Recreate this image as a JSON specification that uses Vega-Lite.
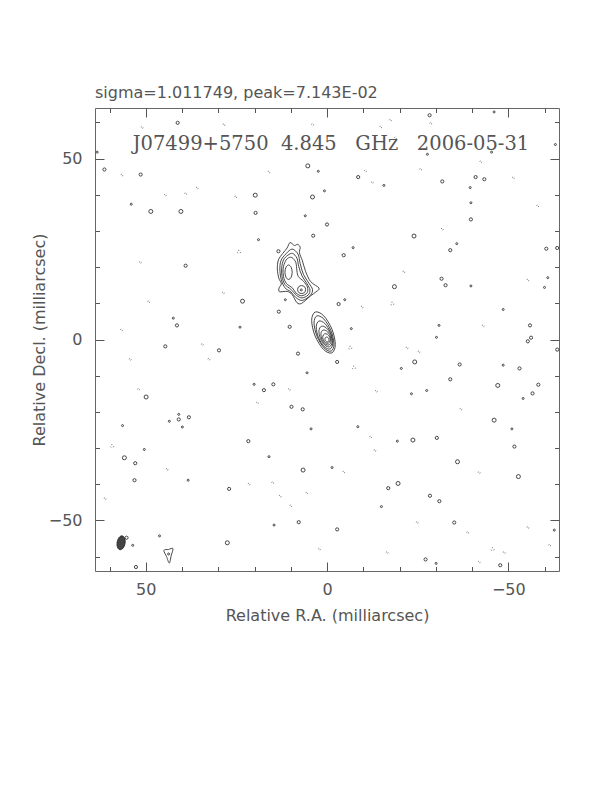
{
  "$schema": "https://vega.github.io/schema/vega-lite/v6.json",
  "width": 464,
  "height": 463,
  "autosize": "none",
  "padding": {"left": 95, "top": 108, "right": 53, "bottom": 221},
  "background": "white",
  "config": {
    "view": {"stroke": "#666", "strokeWidth": 1},
    "axis": {
      "domain": false, "grid": false,
      "labelFont": "DejaVu Sans", "labelFontSize": 16, "labelColor": "#555",
      "titleFont": "DejaVu Sans", "titleFontSize": 16, "titleFontWeight": "normal", "titleColor": "#555",
      "tickColor": "#555", "tickWidth": 1, "labelFlush": false, "labelOverlap": false
    }
  },
  "title": {
    "text": "sigma=1.011749, peak=7.143E-02",
    "anchor": "start", "frame": "group", "baseline": "alphabetic", "offset": 11, "dy": 17,
    "font": "DejaVu Sans", "fontSize": 16, "fontWeight": "normal", "color": "#555"
  },
  "datasets": {
    "contours": [
      {"c":"k1","o":0,"x":3.26,"y":7.59},{"c":"k1","o":1,"x":4.23,"y":5.28},{"c":"k1","o":2,"x":3.29,"y":1.0},{"c":"k1","o":3,"x":0.99,"y":-2.72},{"c":"k1","o":4,"x":-1.32,"y":-3.71},{"c":"k1","o":5,"x":-2.29,"y":-1.4},{"c":"k1","o":6,"x":-1.35,"y":2.88},{"c":"k1","o":7,"x":0.95,"y":6.6},
      {"c":"k2","o":0,"x":2.8,"y":6.53},{"c":"k2","o":1,"x":3.58,"y":4.55},{"c":"k2","o":2,"x":2.75,"y":0.88},{"c":"k2","o":3,"x":0.8,"y":-2.33},{"c":"k2","o":4,"x":-1.14,"y":-3.21},{"c":"k2","o":5,"x":-1.92,"y":-1.23},{"c":"k2","o":6,"x":-1.09,"y":2.44},{"c":"k2","o":7,"x":0.86,"y":5.65},
      {"c":"k3","o":0,"x":2.25,"y":5.09},{"c":"k3","o":1,"x":2.97,"y":3.48},{"c":"k3","o":2,"x":2.36,"y":0.56},{"c":"k3","o":3,"x":0.77,"y":-1.96},{"c":"k3","o":4,"x":-0.87,"y":-2.61},{"c":"k3","o":5,"x":-1.59,"y":-1.0},{"c":"k3","o":6,"x":-0.98,"y":1.92},{"c":"k3","o":7,"x":0.61,"y":4.44},
      {"c":"k4","o":0,"x":1.55,"y":3.65},{"c":"k4","o":1,"x":2.22,"y":2.42},{"c":"k4","o":2,"x":1.82,"y":0.26},{"c":"k4","o":3,"x":0.6,"y":-1.56},{"c":"k4","o":4,"x":-0.73,"y":-1.99},{"c":"k4","o":5,"x":-1.4,"y":-0.76},{"c":"k4","o":6,"x":-1.0,"y":1.4},{"c":"k4","o":7,"x":0.22,"y":3.22},
      {"c":"k5","o":0,"x":1.11,"y":2.59},{"c":"k5","o":1,"x":1.67,"y":1.66},{"c":"k5","o":2,"x":1.43,"y":0.08},{"c":"k5","o":3,"x":0.51,"y":-1.22},{"c":"k5","o":4,"x":-0.55,"y":-1.49},{"c":"k5","o":5,"x":-1.11,"y":-0.56},{"c":"k5","o":6,"x":-0.87,"y":1.02},{"c":"k5","o":7,"x":0.05,"y":2.32},
      {"c":"k6","o":0,"x":0.66,"y":1.56},{"c":"k6","o":1,"x":1.15,"y":0.92},{"c":"k6","o":2,"x":1.04,"y":-0.08},{"c":"k6","o":3,"x":0.41,"y":-0.88},{"c":"k6","o":4,"x":-0.38,"y":-1.0},{"c":"k6","o":5,"x":-0.87,"y":-0.36},{"c":"k6","o":6,"x":-0.76,"y":0.64},{"c":"k6","o":7,"x":-0.13,"y":1.44},
      {"c":"k7","o":0,"x":0.26,"y":0.64},{"c":"k7","o":1,"x":0.54,"y":0.3},{"c":"k7","o":2,"x":0.51,"y":-0.21},{"c":"k7","o":3,"x":0.18,"y":-0.6},{"c":"k7","o":4,"x":-0.26,"y":-0.64},{"c":"k7","o":5,"x":-0.54,"y":-0.3},{"c":"k7","o":6,"x":-0.51,"y":0.21},{"c":"k7","o":7,"x":-0.18,"y":0.6},
      {"c":"j1","o":0,"x":10.2,"y":26.8},{"c":"j1","o":1,"x":9.0,"y":26.0},{"c":"j1","o":2,"x":8.1,"y":26.3},{"c":"j1","o":3,"x":7.4,"y":25.5},{"c":"j1","o":4,"x":7.6,"y":24.0},{"c":"j1","o":5,"x":6.8,"y":21.8},{"c":"j1","o":6,"x":5.9,"y":18.8},{"c":"j1","o":7,"x":4.5,"y":16.0},{"c":"j1","o":8,"x":2.2,"y":14.2},{"c":"j1","o":9,"x":3.0,"y":13.2},{"c":"j1","o":10,"x":4.6,"y":12.0},{"c":"j1","o":11,"x":7.0,"y":10.0},{"c":"j1","o":12,"x":8.3,"y":10.2},{"c":"j1","o":13,"x":9.6,"y":12.4},{"c":"j1","o":14,"x":11.0,"y":13.3},{"c":"j1","o":15,"x":13.1,"y":13.2},{"c":"j1","o":16,"x":13.2,"y":14.3},{"c":"j1","o":17,"x":12.6,"y":15.4},{"c":"j1","o":18,"x":13.3,"y":17.0},{"c":"j1","o":19,"x":13.7,"y":19.5},{"c":"j1","o":20,"x":13.4,"y":22.0},{"c":"j1","o":21,"x":12.2,"y":23.8},{"c":"j1","o":22,"x":11.0,"y":25.3},
      {"c":"j2","o":0,"x":9.6,"y":25.0},{"c":"j2","o":1,"x":8.0,"y":23.6},{"c":"j2","o":2,"x":7.4,"y":21.0},{"c":"j2","o":3,"x":6.5,"y":18.0},{"c":"j2","o":4,"x":5.0,"y":15.6},{"c":"j2","o":5,"x":4.0,"y":13.8},{"c":"j2","o":6,"x":4.6,"y":12.2},{"c":"j2","o":7,"x":6.8,"y":10.8},{"c":"j2","o":8,"x":8.6,"y":11.6},{"c":"j2","o":9,"x":10.0,"y":13.2},{"c":"j2","o":10,"x":11.6,"y":14.3},{"c":"j2","o":11,"x":12.6,"y":16.5},{"c":"j2","o":12,"x":13.0,"y":19.2},{"c":"j2","o":13,"x":12.7,"y":21.8},{"c":"j2","o":14,"x":11.3,"y":23.7},
      {"c":"j3","o":0,"x":9.5,"y":23.8},{"c":"j3","o":1,"x":8.3,"y":22.5},{"c":"j3","o":2,"x":7.8,"y":20.2},{"c":"j3","o":3,"x":6.9,"y":17.6},{"c":"j3","o":4,"x":5.5,"y":15.4},{"c":"j3","o":5,"x":4.7,"y":13.7},{"c":"j3","o":6,"x":5.2,"y":12.3},{"c":"j3","o":7,"x":6.9,"y":11.5},{"c":"j3","o":8,"x":8.4,"y":12.2},{"c":"j3","o":9,"x":10.0,"y":13.9},{"c":"j3","o":10,"x":11.6,"y":15.2},{"c":"j3","o":11,"x":12.4,"y":17.4},{"c":"j3","o":12,"x":12.5,"y":19.8},{"c":"j3","o":13,"x":12.0,"y":22.0},{"c":"j3","o":14,"x":10.8,"y":23.3},
      {"c":"j4","o":0,"x":9.6,"y":22.6},{"c":"j4","o":1,"x":8.6,"y":21.3},{"c":"j4","o":2,"x":8.3,"y":19.0},{"c":"j4","o":3,"x":7.9,"y":17.4},{"c":"j4","o":4,"x":6.5,"y":16.1},{"c":"j4","o":5,"x":5.4,"y":14.5},{"c":"j4","o":6,"x":5.5,"y":12.9},{"c":"j4","o":7,"x":7.0,"y":12.1},{"c":"j4","o":8,"x":8.5,"y":12.8},{"c":"j4","o":9,"x":9.5,"y":14.2},{"c":"j4","o":10,"x":11.2,"y":15.5},{"c":"j4","o":11,"x":12.0,"y":17.4},{"c":"j4","o":12,"x":12.1,"y":19.6},{"c":"j4","o":13,"x":11.5,"y":21.6},{"c":"j4","o":14,"x":10.6,"y":22.6},
      {"c":"j5","o":0,"x":11.6,"y":18.6},{"c":"j5","o":1,"x":11.3,"y":20.0},{"c":"j5","o":2,"x":10.6,"y":20.6},{"c":"j5","o":3,"x":9.9,"y":20.0},{"c":"j5","o":4,"x":9.6,"y":18.6},{"c":"j5","o":5,"x":9.9,"y":17.2},{"c":"j5","o":6,"x":10.6,"y":16.6},{"c":"j5","o":7,"x":11.3,"y":17.2},
      {"c":"j6","o":0,"x":8.1,"y":13.8},{"c":"j6","o":1,"x":7.8,"y":14.6},{"c":"j6","o":2,"x":7.0,"y":14.9},{"c":"j6","o":3,"x":6.2,"y":14.6},{"c":"j6","o":4,"x":5.9,"y":13.8},{"c":"j6","o":5,"x":6.2,"y":13.0},{"c":"j6","o":6,"x":7.0,"y":12.7},{"c":"j6","o":7,"x":7.8,"y":13.0},
      {"c":"t1","o":0,"x":45.0,"y":-58.3},{"c":"t1","o":1,"x":43.75,"y":-58.05},{"c":"t1","o":2,"x":42.5,"y":-57.8},{"c":"t1","o":3,"x":43.0,"y":-59.8},{"c":"t1","o":4,"x":43.5,"y":-61.8},{"c":"t1","o":5,"x":44.25,"y":-60.05}
    ],
    "pos": [
      {"x":41.2,"y":59.9,"s":2},{"x":61.4,"y":47.0,"s":2},{"x":51.4,"y":45.6,"s":2},{"x":5.3,"y":48.0,"s":3},{"x":2.4,"y":46.5,"s":1},
      {"x":19.8,"y":39.9,"s":3},{"x":4.0,"y":39.4,"s":3},{"x":0.7,"y":41.1,"s":1},{"x":54.0,"y":37.4,"s":1},{"x":48.6,"y":35.4,"s":3},
      {"x":40.3,"y":35.4,"s":3},{"x":19.7,"y":35.0,"s":2},{"x":6.0,"y":34.2,"s":1},{"x":0,"y":31.8,"s":2},{"x":3.8,"y":28.7,"s":2},
      {"x":18.9,"y":27.6,"s":1},{"x":13.4,"y":24.4,"s":2},{"x":39.0,"y":20.4,"s":2},{"x":23.3,"y":10.6,"s":3},{"x":11.5,"y":11.0,"s":1},
      {"x":13.3,"y":7.7,"s":2},{"x":42.4,"y":5.9,"s":1},{"x":41.4,"y":3.9,"s":2},{"x":24.0,"y":3.4,"s":1},{"x":10.3,"y":3.5,"s":2},
      {"x":63.4,"y":51.8,"s":1},{"x":-28.3,"y":62.0,"s":2},{"x":-46.1,"y":62.9,"s":1},{"x":-27.7,"y":51.2,"s":1},{"x":-8.6,"y":44.9,"s":2},
      {"x":-31.8,"y":43.7,"s":2},{"x":-41.0,"y":44.9,"s":2},{"x":-43.4,"y":44.3,"s":2},{"x":-39.5,"y":42.0,"s":1},{"x":-15.7,"y":42.6,"s":1},
      {"x":-39.7,"y":37.8,"s":1},{"x":-39.7,"y":33.2,"s":2},{"x":-24.0,"y":28.6,"s":3},{"x":-7.2,"y":25.4,"s":1},{"x":-4.6,"y":23.3,"s":2},
      {"x":-35.8,"y":26.5,"s":1},{"x":-34.0,"y":24.7,"s":2},{"x":-60.5,"y":25.1,"s":2},{"x":-63.5,"y":25.3,"s":2},{"x":-31.6,"y":16.8,"s":2},
      {"x":-32.7,"y":15.0,"s":2},{"x":-18.6,"y":14.6,"s":3},{"x":-39.7,"y":14.8,"s":1},{"x":-60.9,"y":17.1,"s":1},{"x":-60.0,"y":14.4,"s":1},
      {"x":-3.2,"y":9.8,"s":2},{"x":-4.9,"y":11.0,"s":1},{"x":-48.6,"y":8.3,"s":1},{"x":-56.0,"y":3.9,"s":2},{"x":-56.3,"y":0.5,"s":2},
      {"x":-6.7,"y":3.0,"s":1},{"x":-30.9,"y":3.9,"s":1},{"x":-30.2,"y":0.6,"s":1},{"x":-63.0,"y":53.9,"s":1},{"x":-45.4,"y":51.8,"s":1},
      {"x":44.6,"y":-1.9,"s":2},{"x":29.8,"y":-3.0,"s":2},{"x":8.0,"y":-3.9,"s":2},{"x":5.5,"y":-9.2,"s":1},{"x":49.9,"y":-15.9,"s":3},
      {"x":20.1,"y":-12.4,"s":1},{"x":17.4,"y":-14.0,"s":2},{"x":14.8,"y":-12.4,"s":2},{"x":9.8,"y":-18.6,"s":2},{"x":6.7,"y":-19.3,"s":2},
      {"x":40.9,"y":-22.1,"s":2},{"x":40.9,"y":-20.7,"s":1},{"x":38.1,"y":-21.5,"s":2},{"x":43.5,"y":-22.6,"s":1},{"x":56.4,"y":-23.8,"s":1},
      {"x":39.9,"y":-24.2,"s":1},{"x":4.4,"y":-24.7,"s":1},{"x":50.4,"y":-30.4,"s":1},{"x":21.7,"y":-28.1,"s":2},{"x":16.0,"y":-32.4,"s":1},
      {"x":55.9,"y":-32.7,"s":3},{"x":52.9,"y":-34.2,"s":2},{"x":6.6,"y":-36.1,"s":3},{"x":53.1,"y":-38.9,"s":2},{"x":38.3,"y":-38.9,"s":1},
      {"x":27.0,"y":-41.3,"s":2},{"x":14.6,"y":-51.3,"s":1},{"x":7.8,"y":-50.5,"s":2},{"x":46.2,"y":-54.3,"s":1},{"x":53.6,"y":-56.9,"s":1},
      {"x":27.5,"y":-56.2,"s":3},{"x":43.7,"y":-59.3,"s":1},{"x":55.3,"y":-54.8,"s":2},{"x":52.7,"y":-62.9,"s":2},{"x":-55.4,"y":-0.5,"s":2},
      {"x":-2.8,"y":-6.2,"s":2},{"x":-24.2,"y":-6.2,"s":3},{"x":-36.6,"y":-6.9,"s":2},{"x":-20.5,"y":-8.0,"s":1},{"x":-48.6,"y":-7.1,"s":1},
      {"x":-53.1,"y":-8.0,"s":2},{"x":-34.0,"y":-11.0,"s":2},{"x":-47.1,"y":-12.7,"s":3},{"x":-58.3,"y":-12.5,"s":2},{"x":-56.7,"y":-14.9,"s":2},
      {"x":-27.5,"y":-14.1,"s":1},{"x":-23.3,"y":-15.0,"s":1},{"x":-54.1,"y":-16.3,"s":1},{"x":-8.5,"y":-24.1,"s":1},{"x":-46.1,"y":-22.3,"s":3},
      {"x":-51.0,"y":-24.7,"s":1},{"x":-30.3,"y":-27.2,"s":2},{"x":-23.7,"y":-27.8,"s":3},{"x":-51.7,"y":-29.6,"s":2},{"x":-19.4,"y":-28.1,"s":1},
      {"x":-36.0,"y":-33.8,"s":3},{"x":-1.4,"y":-35.4,"s":1},{"x":-52.8,"y":-37.9,"s":3},{"x":-19.6,"y":-39.8,"s":3},{"x":-16.9,"y":-41.1,"s":2},
      {"x":-28.4,"y":-43.2,"s":2},{"x":-31.0,"y":-44.7,"s":2},{"x":-15.0,"y":-46.2,"s":1},{"x":-2.8,"y":-52.5,"s":2},{"x":-35.1,"y":-50.6,"s":2},
      {"x":-62.7,"y":-52.7,"s":1},{"x":-27.2,"y":-60.8,"s":2},{"x":-30.1,"y":-61.9,"s":1},{"x":-47.8,"y":-62.4,"s":2},{"x":-63.5,"y":-2.8,"s":2},
      {"x":7.1,"y":13.7,"s":1}
    ],
    "neg": [
      {"x":51.0,"y":58.6,"s":1},{"x":28.4,"y":59.4,"s":1},{"x":56.6,"y":45.4,"s":1},{"x":44.6,"y":39.9,"s":1},{"x":39.0,"y":40.3,"s":1},
      {"x":35.8,"y":41.9,"s":1},{"x":25.2,"y":39.4,"s":1},{"x":24.3,"y":24.2,"s":2},{"x":51.5,"y":21.3,"s":1},{"x":28.6,"y":12.9,"s":1},
      {"x":49.2,"y":10.4,"s":1},{"x":56.7,"y":2.6,"s":1},{"x":16.0,"y":46.3,"s":1},{"x":4.0,"y":59.4,"s":1},{"x":-10.6,"y":46.6,"s":1},
      {"x":-12.5,"y":43.4,"s":1},{"x":-25.8,"y":47.0,"s":1},{"x":-18.9,"y":55.7,"s":1},{"x":-17.5,"y":60.6,"s":1},{"x":-14.8,"y":58.7,"s":1},
      {"x":-31.8,"y":30.5,"s":1},{"x":-21.2,"y":18.7,"s":1},{"x":-18.0,"y":9.9,"s":2},{"x":-9.7,"y":9.0,"s":1},{"x":-43.1,"y":3.8,"s":1},
      {"x":-55.4,"y":16.4,"s":1},{"x":-58.1,"y":36.9,"s":1},{"x":-51.4,"y":44.7,"s":1},{"x":-42.4,"y":49.1,"s":1},{"x":-28.6,"y":59.7,"s":1},
      {"x":34.4,"y":-1.4,"s":1},{"x":54.3,"y":-5.5,"s":1},{"x":32.6,"y":-5.5,"s":1},{"x":52.0,"y":-13.8,"s":1},{"x":10.4,"y":-13.8,"s":1},
      {"x":19.2,"y":-17.5,"s":1},{"x":59.3,"y":-29.5,"s":2},{"x":44.1,"y":-35.9,"s":1},{"x":21.5,"y":-40.0,"s":1},{"x":15.0,"y":-39.6,"s":1},
      {"x":12.9,"y":-43.3,"s":1},{"x":10.0,"y":-46.0,"s":1},{"x":61.2,"y":-44.0,"s":1},{"x":5.6,"y":-42.5,"s":1},{"x":2.1,"y":-58.0,"s":1},
      {"x":-6.4,"y":-2.3,"s":2},{"x":-7.4,"y":-7.8,"s":2},{"x":-22.1,"y":-2.3,"s":1},{"x":-25.4,"y":-3.4,"s":1},{"x":-13.6,"y":-14.3,"s":1},
      {"x":-36.9,"y":-19.3,"s":1},{"x":-12.0,"y":-27.0,"s":1},{"x":-13.2,"y":-30.7,"s":1},{"x":-4.6,"y":-36.7,"s":1},{"x":-24.9,"y":-50.6,"s":1},
      {"x":-38.8,"y":-53.4,"s":1},{"x":-45.7,"y":-58.0,"s":2},{"x":-48.9,"y":-58.9,"s":1},{"x":-61.4,"y":-56.9,"s":1},{"x":-16.6,"y":-58.9,"s":1},
      {"x":-42.0,"y":-61.5,"s":1},{"x":-42.0,"y":-36.8,"s":1},{"x":-55.4,"y":-52.0,"s":1}
    ],
    "beam": [{"x":56.8,"y":-56.2}],
    "label": [{"text":"J07499+5750\u00a0 4.845\u00a0\u00a0 GHz\u00a0\u00a0 2006-05-31"}]
  },
  "layer": [
    {
      "data": {"name": "contours"},
      "mark": {"type": "line", "interpolate": "cardinal-closed", "color": "#333", "strokeWidth": 0.9},
      "encoding": {
        "x": {"field": "x", "type": "quantitative",
          "scale": {"domain": [-64, 64], "reverse": true, "nice": false, "zero": false},
          "axis": {"orient": "bottom", "values": [-50, 0, 50], "offset": -9, "tickSize": 9,
            "labelPadding": 10,
            "title": "Relative R.A. (milliarcsec)", "titlePadding": 10}},
        "y": {"field": "y", "type": "quantitative",
          "scale": {"domain": [-64, 64], "nice": false, "zero": false},
          "axis": {"orient": "left", "values": [-50, 0, 50], "offset": -9, "tickSize": 9,
            "labelPadding": 13,
            "title": "Relative Decl. (milliarcsec)", "titlePadding": 1}},
        "detail": {"field": "c"},
        "order": {"field": "o"}
      }
    },
    {
      "data": {"name": "pos"},
      "mark": {"type": "point", "shape": "circle", "filled": false, "stroke": "#333", "strokeWidth": 0.9, "opacity": 1},
      "encoding": {
        "x": {"field": "x", "type": "quantitative",
          "axis": {"orient": "top", "values": [-50, 0, 50], "offset": -9, "tickSize": 9, "labels": false, "title": null}},
        "y": {"field": "y", "type": "quantitative",
          "axis": {"orient": "right", "values": [-50, 0, 50], "offset": -9, "tickSize": 9, "labels": false, "title": null}},
        "size": {"field": "s", "type": "ordinal", "scale": {"domain": [1, 2, 3], "range": [4, 16, 36]}, "legend": null}
      }
    },
    {
      "data": {"name": "neg"},
      "mark": {"type": "point", "shape": "circle", "filled": false, "stroke": "#666", "strokeWidth": 1, "strokeDash": [1, 2], "opacity": 1},
      "encoding": {
        "x": {"field": "x", "type": "quantitative",
          "axis": {"orient": "bottom", "values": [-60, -40, -30, -20, -10, 10, 20, 30, 40, 60], "offset": -4.5, "tickSize": 4.5, "labels": false, "title": null}},
        "y": {"field": "y", "type": "quantitative",
          "axis": {"orient": "left", "values": [-60, -40, -30, -20, -10, 10, 20, 30, 40, 60], "offset": -4.5, "tickSize": 4.5, "labels": false, "title": null}},
        "size": {"field": "s", "type": "ordinal", "scale": {"domain": [1, 2], "range": [40, 90]}, "legend": null}
      }
    },
    {
      "data": {"name": "beam"},
      "mark": {"type": "point", "shape": "M0,-1A0.57,1 0 1 1 0,1A0.57,1 0 1 1 0,-1Z", "filled": true, "fill": "#444", "stroke": "#222", "strokeWidth": 0.8, "size": 196, "angle": 10, "opacity": 1},
      "encoding": {
        "x": {"field": "x", "type": "quantitative",
          "axis": {"orient": "top", "values": [-60, -40, -30, -20, -10, 10, 20, 30, 40, 60], "offset": -4.5, "tickSize": 4.5, "labels": false, "title": null}},
        "y": {"field": "y", "type": "quantitative",
          "axis": {"orient": "right", "values": [-60, -40, -30, -20, -10, 10, 20, 30, 40, 60], "offset": -4.5, "tickSize": 4.5, "labels": false, "title": null}}
      }
    },
    {
      "data": {"name": "label"},
      "mark": {"type": "text", "font": "DejaVu Serif", "fontSize": 19.5, "color": "#555", "align": "center", "baseline": "alphabetic"},
      "encoding": {
        "x": {"datum": -1.1, "type": "quantitative", "axis": null},
        "y": {"datum": 52.4, "type": "quantitative", "axis": null},
        "text": {"field": "text"}
      }
    }
  ],
  "resolve": {"axis": {"x": "independent", "y": "independent"}}
}
